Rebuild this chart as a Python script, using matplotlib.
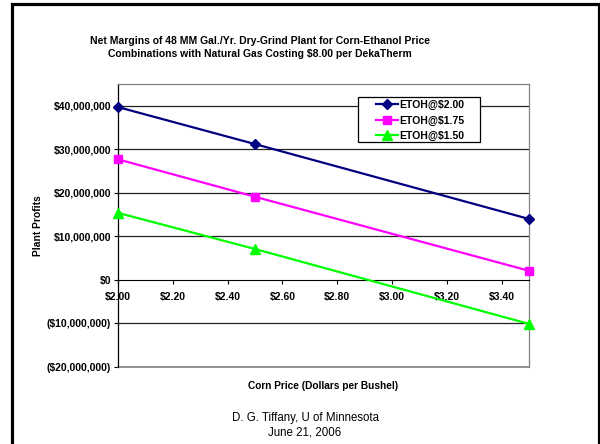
import matplotlib
matplotlib.use("Agg")
import matplotlib.pyplot as plt
from matplotlib.patches import Rectangle
from matplotlib.ticker import FuncFormatter

plt.rcParams["font.family"] = ["Liberation Sans", "DejaVu Sans"]

corn_price = [2.00, 2.50, 3.50]
etoh_200 = [39.7e6, 31.2e6, 14.0e6]
etoh_175 = [27.7e6, 19.1e6, 2.1e6]
etoh_150 = [15.4e6, 7.1e6, -10.1e6]
series = [
    ("ETOH@$2.00", etoh_200, "#000080", "D", 5),
    ("ETOH@$1.75", etoh_175, "#FF00FF", "s", 5.5),
    ("ETOH@$1.50", etoh_150, "#00FF00", "^", 6.5),
]
x_ticks = [2.00, 2.20, 2.40, 2.60, 2.80, 3.00, 3.20, 3.40]
y_ticks = [-20e6, -10e6, 0, 10e6, 20e6, 30e6, 40e6]


def money(v, _pos=None):
    if v < 0:
        return f"(${-v:,.0f})"
    return f"${v:,.0f}"


fig = plt.figure(figsize=(6.0, 4.44), dpi=100)
fig.patch.set_facecolor("white")

# outer chart frame
fig.patches.append(Rectangle((11.5 / 600, -0.1), 587 / 600, 1.1 - 4.5 / 444,
                             transform=fig.transFigure, fill=False,
                             edgecolor="black", linewidth=2.3))

ax = fig.add_axes([118 / 600, 1 - 367 / 444, 411 / 600, 283 / 444])
ax.set_xlim(2.0, 3.5)
ax.set_ylim(-20e6, 45e6)

for yv in [-10e6, 10e6, 20e6, 30e6, 40e6]:
    ax.axhline(yv, color="#222222", linewidth=0.9, zorder=1)

for name, vals, col, mk, ms in series:
    ax.plot(corn_price, vals, color=col, linewidth=1.6, marker=mk,
            markersize=ms, markerfacecolor=col, markeredgecolor=col,
            label=name, zorder=3, clip_on=False)

for s in ["top", "right"]:
    ax.spines[s].set_color("#808080")
    ax.spines[s].set_linewidth(0.9)
ax.spines["bottom"].set_position(("data", 0))
ax.spines["bottom"].set_color("black")
ax.spines["left"].set_color("black")
ax.spines["left"].set_linewidth(0.9)
ax.axhline(-20e6, color="#808080", linewidth=1.2, zorder=2, clip_on=False)

ax.set_xticks(x_ticks)
ax.xaxis.set_major_formatter(FuncFormatter(lambda v, p: f"${v:.2f}"))
ax.set_yticks(y_ticks)
ax.yaxis.set_major_formatter(FuncFormatter(money))
ax.tick_params(axis="both", direction="out", length=3, width=0.8,
               labelsize=7.5, pad=2)
ax.tick_params(axis="x", pad=5.5)
for lbl in ax.get_xticklabels() + ax.get_yticklabels():
    lbl.set_fontweight("bold")

ax.set_ylabel("Plant Profits", fontsize=7.4, fontweight="bold", labelpad=3)

# legend box drawn separately so the padding matches the Excel look
ax.add_patch(Rectangle((0.584, 0.795), 0.297, 0.159, transform=ax.transAxes,
                       facecolor="white", edgecolor="black", linewidth=0.9,
                       zorder=4.5))
leg = ax.legend(loc="upper left", bbox_to_anchor=(0.628, 0.943),
                prop={"size": 7.5, "weight": "bold"}, frameon=False,
                borderpad=0, labelspacing=0.5, handlelength=2.1,
                handletextpad=0.1, borderaxespad=0)
leg.set_zorder(5)

fig.text(260 / 600, 1 - 41 / 444,
         "Net Margins of 48 MM Gal./Yr. Dry-Grind Plant for Corn-Ethanol Price",
         ha="center", va="center", fontsize=7.5, fontweight="bold")
fig.text(260 / 600, 1 - 54 / 444,
         "Combinations with Natural Gas Costing $8.00 per DekaTherm",
         ha="center", va="center", fontsize=7.5, fontweight="bold")
fig.text(323 / 600, 1 - 386 / 444, "Corn Price (Dollars per Bushel)",
         ha="center", va="center", fontsize=7.3, fontweight="bold")
fig.text(305 / 600, 1 - 418 / 444, "D. G. Tiffany, U of Minnesota",
         ha="center", va="center", fontsize=8.3)
fig.text(305 / 600, 1 - 432 / 444, "June 21, 2006",
         ha="center", va="center", fontsize=8.3)

fig.savefig("out.png", dpi=100, facecolor="white")
